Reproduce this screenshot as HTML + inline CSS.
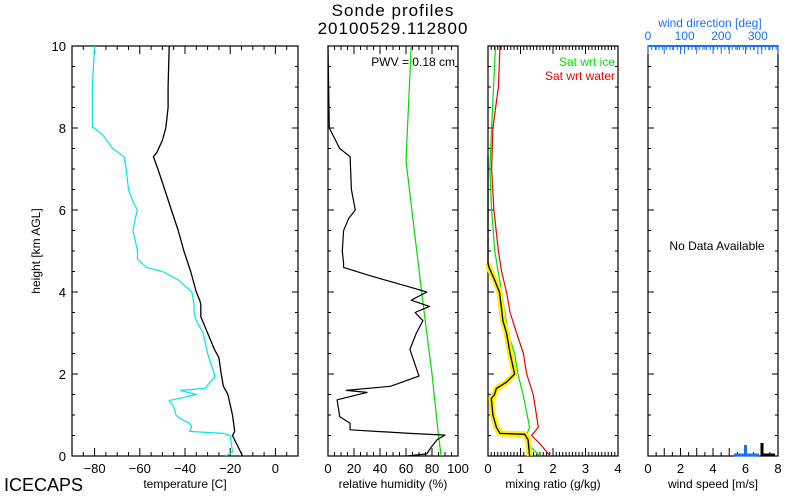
<!DOCTYPE html>
<html><head><meta charset="utf-8"><style>
body{margin:0;background:#fff;}
svg{display:block;font-family:"Liberation Sans",sans-serif;}
</style></head><body>
<svg id="c" width="800" height="500" xmlns="http://www.w3.org/2000/svg">
<text x="393" y="16" font-size="17" text-anchor="middle" letter-spacing="1">Sonde profiles</text>
<text x="393" y="34" font-size="17" text-anchor="middle" letter-spacing="1">20100529.112800</text>
<text x="4" y="491" font-size="18">ICECAPS</text>
<text transform="translate(40,251) rotate(-90)" font-size="12" text-anchor="middle">height [km AGL]</text>
</svg>
<script>
// ---- data (heights in km) ----
const tempH = [0,0.5,0.6,1.0,1.5,1.7,2.0,2.4,2.6,3.0,3.4,3.7,3.8,4.0,4.5,5.0,5.5,6.0,6.5,7.0,7.3,7.4,7.7,8.0,8.5,9.0,10];
const tempT = [-14.5,-19,-18,-19,-21,-23,-24,-25,-27,-30,-33,-33,-33.5,-35,-37.5,-40.5,-43,-46,-49,-52,-54,-52.5,-50,-48.5,-47.5,-47.5,-47];
const dewH = [0,0.1,0.5,0.55,0.6,0.7,0.8,0.85,0.95,1.0,1.2,1.35,1.4,1.5,1.6,1.65,1.8,1.9,2.0,2.5,3.0,3.3,3.5,3.7,4.0,4.3,4.5,4.6,4.8,5.0,5.5,5.8,6.0,6.2,6.5,7.0,7.3,7.5,7.8,8.0,8.01,9,10];
const dewT = [-22,-19,-20,-23,-38,-37,-38,-40,-43,-44,-45,-47,-43,-35,-42,-31,-29,-27,-27,-30,-32,-35,-36,-36,-37,-43,-50,-57,-61,-61,-63,-62,-61,-63,-65,-66,-67,-72,-76,-80,-81,-81,-80];
const rhH = [0,0.05,0.2,0.4,0.51,0.55,0.64,0.8,0.96,1.37,1.55,1.6,1.7,1.95,2.6,3.0,3.3,3.5,3.65,3.8,4.0,4.15,4.4,4.6,4.7,5.0,5.5,5.8,6.0,6.5,7.3,7.5,8.0,10];
const rhV = [61,76,79,84,90,63,17,17,9,7,30,14,48,70,63,68,73,67,78,64,76,60,32,12,12,11,12,16,21,18,17,9,1,0];
const rhIceH = [0,0.5,2,4,7.2,10];
const rhIceV = [87,85,80,72,60,64];
const mrH = [0,0.4,0.53,0.55,0.7,1.0,1.4,1.5,1.65,1.8,2.0,2.5,3.0,3.3,3.7,4.0,4.3,4.6,4.7,7.3];
const mrV = [1.28,1.23,1.13,0.37,0.26,0.15,0.1,0.2,0.26,0.57,0.82,0.68,0.57,0.46,0.4,0.35,0.2,0.03,0,0];
const satIceH = [0,0.2,0.5,0.7,1.5,2,2.5,3,4,5,6,7,8,10];
const satIceV = [1.6,1.34,1.18,1.28,1.08,0.92,0.82,0.62,0.42,0.21,0.11,0.06,0.11,0.23];
const satWatH = [0,0.3,0.5,0.7,1.5,2,2.5,3,3.5,4,4.5,5,6,7,8,9,10];
const satWatV = [1.91,1.6,1.34,1.55,1.39,1.19,1.09,0.88,0.68,0.57,0.42,0.32,0.18,0.11,0.15,0.32,0.37];
const yTicks = [0,2,4,6,8,10];

const NS="http://www.w3.org/2000/svg";
const svg=document.getElementById('c');
const Y0=456,Y1=46;
function yS(h){return Y0-(h/10)*(Y0-Y1);}
function mk(tag,attrs,parent){const e=document.createElementNS(NS,tag);for(const k in attrs)e.setAttribute(k,attrs[k]);(parent||svg).appendChild(e);return e;}
function panel(x0,x1,xmin,xmax,major,minor,labels,title,name,color){
  const g=mk('g',{});
  
  
  const xs=v=>x0+(v-xmin)/(xmax-xmin)*(x1-x0);
  mk('rect',{x:x0,y:Y1,width:x1-x0,height:Y0-Y1,fill:'none',stroke:'#000','stroke-width':1.2},g);
  for(let v=xmin;v<=xmax+1e-9;v+=minor){
    const isM=Math.abs(Math.round(v/major)*major-v)<1e-6;const L=isM?8:4;const x=xs(v);
    mk('line',{x1:x,x2:x,y1:Y0,y2:Y0-L,stroke:'#000'},g);
    mk('line',{x1:x,x2:x,y1:Y1,y2:Y1+L,stroke:color||'#000'},g);
  }
  for(let h=0;h<=10;h+=0.5){
    const isM=h%2===0;const L=isM?6:3;const y=yS(h);
    mk('line',{x1:x0,x2:x0+L,y1:y,y2:y,stroke:'#000'},g);
    mk('line',{x1:x1,x2:x1-L,y1:y,y2:y,stroke:'#000'},g);
  }
  labels.forEach(v=>{const t=mk('text',{x:xs(v),y:473,'font-size':13,'text-anchor':'middle'},g);t.textContent=(v<0?'\u2212'+(-v):v);
    });
  const t=mk('text',{x:(x0+x1)/2,y:488,'font-size':12,'text-anchor':'middle'},g);t.textContent=title;
  
  return {g,xs};
}
function line(p,H,V,color,w,name){
  const d=H.map((h,i)=>(i?'L':'M')+p.xs(V[i]).toFixed(1)+','+yS(h).toFixed(1)).join('');
  const e=mk('path',{d:d,fill:'none',stroke:color,'stroke-width':w,'stroke-linejoin':'round'},p.g);
  
  
}
// temperature panel
const p1=panel(72,298,-90,10,20,5,[-80,-60,-40,-20,0],'temperature [C]','temperature-panel');
yTicks.forEach(h=>{const t=mk('text',{x:66,y:yS(h)+5,'font-size':13,'text-anchor':'end'});t.textContent=h;
  });
line(p1,dewH,dewT,'#00e5ee',1.2,'dewpoint-line');
line(p1,tempH,tempT,'#000',1.3,'temperature-line');
// RH panel
const p2=panel(328,458,0,100,20,5,[0,20,40,60,80,100],'relative humidity (%)','rh-panel');
line(p2,rhIceH,rhIceV,'#00dd00',1.2,'rh-ice-line');
line(p2,rhH,rhV,'#000',1.2,'rh-line');
let t=mk('text',{x:455,y:66,'font-size':12,'text-anchor':'end'},p2.g);t.textContent='PWV = 0.18 cm';

// mixing ratio panel
const p3=panel(488,618,0,4,1,0.1,[0,1,2,3,4],'mixing ratio (g/kg)','mixing-ratio-panel');
line(p3,satWatH,satWatV,'#ee0000',1.2,'sat-water-line');
line(p3,satIceH,satIceV,'#00dd00',1.2,'sat-ice-line');
const hiN=mrH.filter(h=>h<=4.7).length;
line(p3,mrH.slice(0,hiN),mrV.slice(0,hiN),'#ffee00',6,'mixing-ratio-highlight');
line(p3,mrH,mrV,'#000',1.3,'mixing-ratio-line');
t=mk('text',{x:615,y:66,'font-size':12,'text-anchor':'end',fill:'#00dd00'},p3.g);t.textContent='Sat wrt ice';

t=mk('text',{x:615,y:80,'font-size':12,'text-anchor':'end',fill:'#ee0000'},p3.g);t.textContent='Sat wrt water';

// wind panel
const p4=panel(648,778,0,8,1,0.5,[0,2,4,6,8],'wind speed [m/s]','wind-panel','#1a6fff');
const dx=v=>648+v/355*130;
for(let v=0;v<=350;v+=10){const L=v%100===0?8:4;mk('line',{x1:dx(v),x2:dx(v),y1:Y1,y2:Y1+L,stroke:'#1a6fff'},p4.g);}
mk('line',{x1:648,x2:778,y1:Y1,y2:Y1,stroke:'#1a6fff','stroke-width':2},p4.g);
[0,100,200,300].forEach(v=>{const e=mk('text',{x:dx(v),y:40,'font-size':12,'text-anchor':'middle',fill:'#1a6fff'},p4.g);e.textContent=v;
  });
t=mk('text',{x:710,y:27,'font-size':12,'text-anchor':'middle',fill:'#1a6fff'},p4.g);t.textContent='wind direction [deg]';

t=mk('text',{x:717,y:250,'font-size':12,'text-anchor':'middle'},p4.g);t.textContent='No Data Available';

mk('path',{d:'M734,455H759M745.5,455V445',stroke:'#1a6fff','stroke-width':3,fill:'none'},p4.g);
mk('path',{d:'M762,443V455H775',stroke:'#000','stroke-width':3,fill:'none'},p4.g);
</script>
</body></html>
